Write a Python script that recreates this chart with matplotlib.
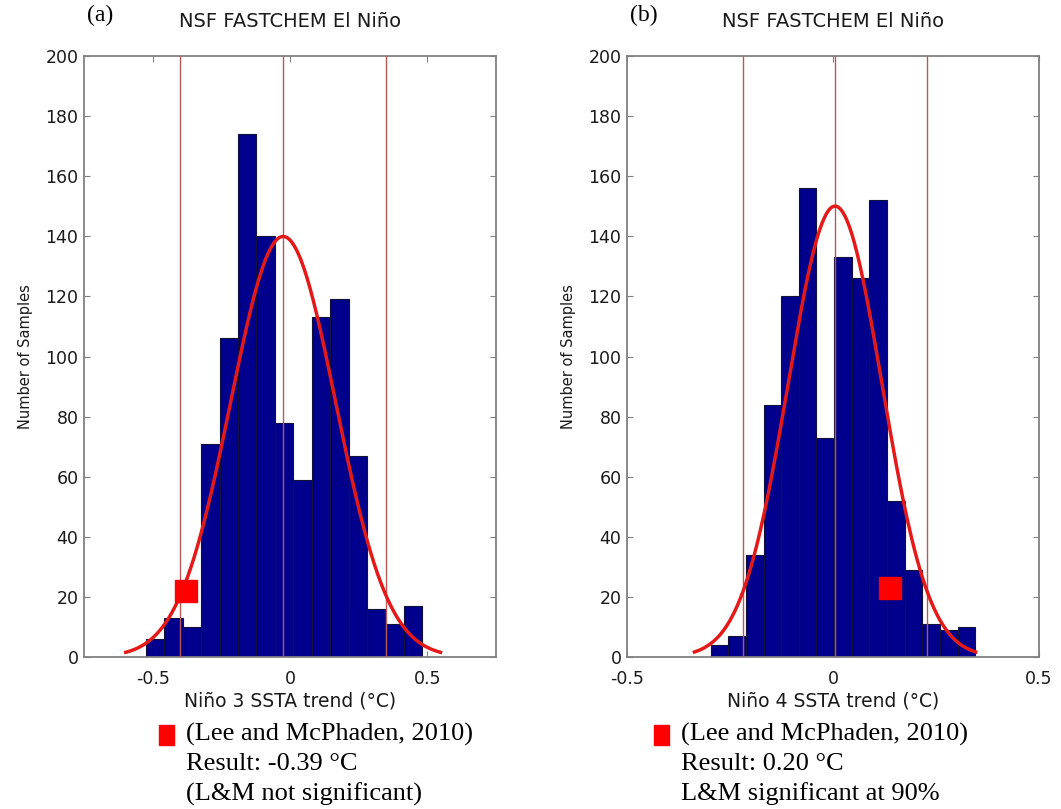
import numpy as np
import matplotlib
matplotlib.use("Agg")
import matplotlib.pyplot as plt
from matplotlib.patches import Rectangle

# Niño 3 panel (a)
nino3_counts = [6, 13, 10, 71, 106, 174, 140, 78, 59, 113, 119, 67, 16, 11, 17]
nino3_bin_start = -0.524
nino3_bin_width = 0.067
nino3_fit_mean = -0.025
nino3_fit_sigma = 0.191
nino3_vlines = [-0.40, -0.025, 0.35]
nino3_lm = (-0.38, 22)

# Niño 4 panel (b)
nino4_counts = [4, 7, 34, 84, 120, 156, 73, 133, 126, 152, 52, 29, 11, 9, 10]
nino4_bin_start = -0.297
nino4_bin_width = 0.0428
nino4_fit_mean = 0.005
nino4_fit_sigma = 0.1138
nino4_vlines = [-0.218, 0.005, 0.228]
nino4_lm = (0.138, 23)

panels = [
    dict(counts=nino3_counts, start=nino3_bin_start, width=nino3_bin_width,
         mu=nino3_fit_mean, sigma=nino3_fit_sigma, vlines=nino3_vlines,
         lm=nino3_lm, xlim=(-0.75, 0.75), xticks=[-0.5, 0, 0.5],
         xlabel="Niño 3 SSTA trend (°C)", tag="(a)",
         note=["(Lee and McPhaden, 2010)", "Result: -0.39 °C",
               "(L&M not significant)"]),
    dict(counts=nino4_counts, start=nino4_bin_start, width=nino4_bin_width,
         mu=nino4_fit_mean, sigma=nino4_fit_sigma, vlines=nino4_vlines,
         lm=nino4_lm, xlim=(-0.5, 0.5), xticks=[-0.5, 0, 0.5],
         xlabel="Niño 4 SSTA trend (°C)", tag="(b)",
         note=["(Lee and McPhaden, 2010)", "Result: 0.20 °C",
               "L&M significant at 90%"]),
]

W, H = 1061, 809
fig = plt.figure(figsize=(W / 100, H / 100), dpi=100)
plt.rcParams["font.family"] = "DejaVu Sans"

axes_left_px = [84, 627]
ax_w_px, ax_top_px, ax_bot_px = 412, 56, 657
spine_grey = "#808080"
text_col = "#1a1a1a"

for p, left_px in zip(panels, axes_left_px):
    ax = fig.add_axes([left_px / W, 1 - ax_bot_px / H, ax_w_px / W,
                       (ax_bot_px - ax_top_px) / H])
    n = len(p["counts"])
    edges = p["start"] + p["width"] * np.arange(n + 1)
    ax.bar(edges[:-1], p["counts"], width=p["width"], align="edge",
           color="#00008c", edgecolor="#10103a", linewidth=0.8, zorder=2)
    for xv in p["vlines"]:
        ax.axvline(xv, color="#b85858", linewidth=1.0, zorder=3)
    xs = np.linspace(p["mu"] - 3 * p["sigma"], p["mu"] + 3 * p["sigma"], 300)
    scale = sum(p["counts"]) * p["width"]
    ys = scale / (p["sigma"] * np.sqrt(2 * np.pi)) * np.exp(-0.5 * ((xs - p["mu"]) / p["sigma"]) ** 2)
    ax.plot(xs, ys, color="#e41a1a", linewidth=2.5, zorder=4)
    ax.plot([p["lm"][0]], [p["lm"][1]], marker="s", markersize=16,
            color="#ff0000", linestyle="none", zorder=5)

    ax.set_xlim(*p["xlim"])
    ax.set_ylim(0, 200)
    ax.set_xticks(p["xticks"])
    ax.set_xticklabels(["-0.5", "0", "0.5"])
    ax.set_yticks(np.arange(0, 201, 20))
    ax.tick_params(direction="in", top=True, right=True, length=4,
                   color=spine_grey, labelsize=12.5, labelcolor=text_col)
    ax.tick_params(axis="x", pad=9)
    ax.tick_params(axis="y", pad=4)
    for s in ax.spines.values():
        s.set_color(spine_grey)
        s.set_linewidth(1.3)
    ax.set_title("NSF FASTCHEM El Niño", fontsize=14, color=text_col, pad=21)
    ax.set_xlabel(p["xlabel"], fontsize=13.5, color=text_col, labelpad=3)
    ax.set_ylabel("Number of Samples", fontsize=10.5, color=text_col, labelpad=9)

    # panel tag
    fig.text((left_px + 3) / W, 1 - 15 / H, p["tag"], family="Liberation Serif",
             fontsize=17, ha="left", va="center")

    # note below the axes
    sq_x = left_px + (75 if p["tag"] == "(a)" else 27)
    fig.add_artist(Rectangle((sq_x / W, 1 - 745 / H), 15 / W, 20 / H,
                             transform=fig.transFigure, color="#ff0000"))
    for i, line in enumerate(p["note"]):
        fig.text((sq_x + 27) / W, 1 - (734 + 30 * i) / H, line,
                 family="Liberation Serif", fontsize=19, ha="left",
                 va="center", color="black")

fig.savefig("out.png", dpi=100)
